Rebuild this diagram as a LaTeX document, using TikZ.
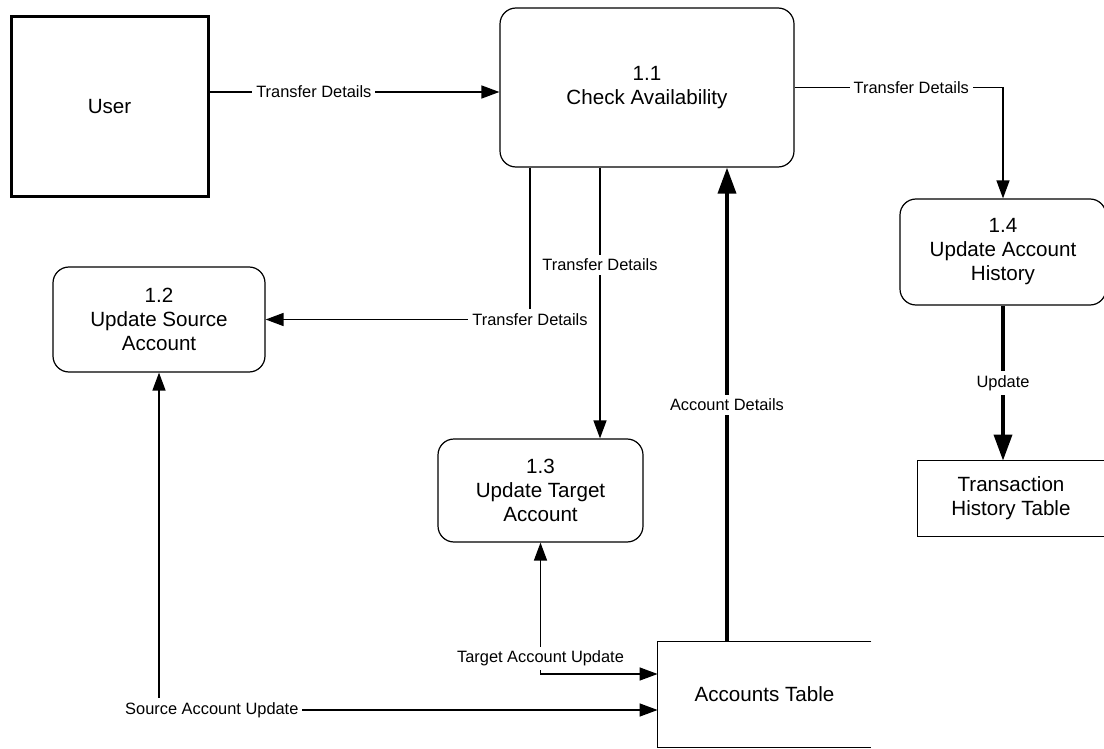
\documentclass[tikz,border=0pt]{standalone}
\usepackage{fontspec}
\setmainfont{Liberation Sans}
\usetikzlibrary{arrows.meta, calc, positioning}

\begin{document}
\begin{tikzpicture}[x=0.5pt, y=-0.5pt,
    proc/.style={draw, rounded corners=8pt, line width=0.6pt, align=center, inner sep=0pt, font=\fontsize{10.3}{12}\selectfont},
    store/.style={align=center, inner sep=0pt, font=\fontsize{10.3}{12}\selectfont},
    flow/.style={line width=0.7pt, -{Triangle[length=9pt, width=6.5pt]}},
    both/.style={line width=0.7pt, {Triangle[length=9pt, width=6.5pt]}-{Triangle[length=9pt, width=6.5pt]}},
    heavy/.style={line width=1.8pt, -{Triangle[length=13pt, width=9pt]}},
    lbl/.style={fill=white, inner sep=2pt, font=\fontsize{8.2}{9}\selectfont}]

    \useasboundingbox (0,0) rectangle (1104,749);

    % External entity
    \node[draw, line width=1.5pt, minimum width=98.5pt, minimum height=90pt, font=\fontsize{10.3}{12}\selectfont] (user) at (109.5,107) {User};

    % Processes
    \node[proc, minimum width=147pt, minimum height=79.5pt] (p11) at (647,87.5) {1.1\\Check Availability};
    \node[proc, minimum width=106pt, minimum height=52.5pt] (p12) at (159,319.5) {1.2\\Update Source\\Account};
    \node[proc, minimum width=102.5pt, minimum height=51.5pt] (p13) at (540.5,490.5) {1.3\\Update Target\\Account};
    \node[proc, minimum width=103pt, minimum height=53pt] (p14) at (1003,252) {1.4\\Update Account\\History};

    % Data stores
    \node[store, minimum width=106.5pt, minimum height=52.5pt] (acct) at (764.5,694.5) {Accounts Table};
    \draw[line width=0.6pt] (acct.north east) -- (acct.north west) -- (acct.south west) -- (acct.south east);
    \node[store, minimum width=93pt, minimum height=37.5pt] (thist) at (1011,498.5) {Transaction\\History Table};
    \draw[line width=0.6pt] (thist.north east) -- (thist.north west) -- (thist.south west) -- (thist.south east);

    % Helper coordinates
    \coordinate (uy) at (0,92);
    \coordinate (c1) at (530,0);
    \coordinate (c2) at (600,0);
    \coordinate (c3) at (727,0);
    \coordinate (ty) at (0,674);
    \coordinate (sy) at (0,710);

    % Data flows
    \draw[flow] (user.east |- uy) -- node[lbl, pos=0.36] {Transfer Details} (p11.west |- uy);
    \draw[flow] (p11.east) -| node[lbl, pos=0.28] {Transfer Details} (p14.north);
    \draw[flow] (p11.south -| c1) |- node[lbl, pos=0.5] {Transfer Details} (p12.east);
    \draw[flow] (p11.south -| c2) -- node[lbl, pos=0.36] {Transfer Details} (p13.north -| c2);
    \draw[heavy] (acct.north -| c3) -- node[lbl] {Account Details} (p11.south -| c3);
    \draw[heavy] (p14.south) -- node[lbl] {Update} (p14.south |- thist.north);
    \draw[both] (p13.south) |- node[lbl, pos=0.44] {Target Account Update} (acct.west |- ty);
    \draw[both] (p12.south) |- node[lbl, pos=0.553] {Source Account Update} (acct.west |- sy);
\end{tikzpicture}
\end{document}
